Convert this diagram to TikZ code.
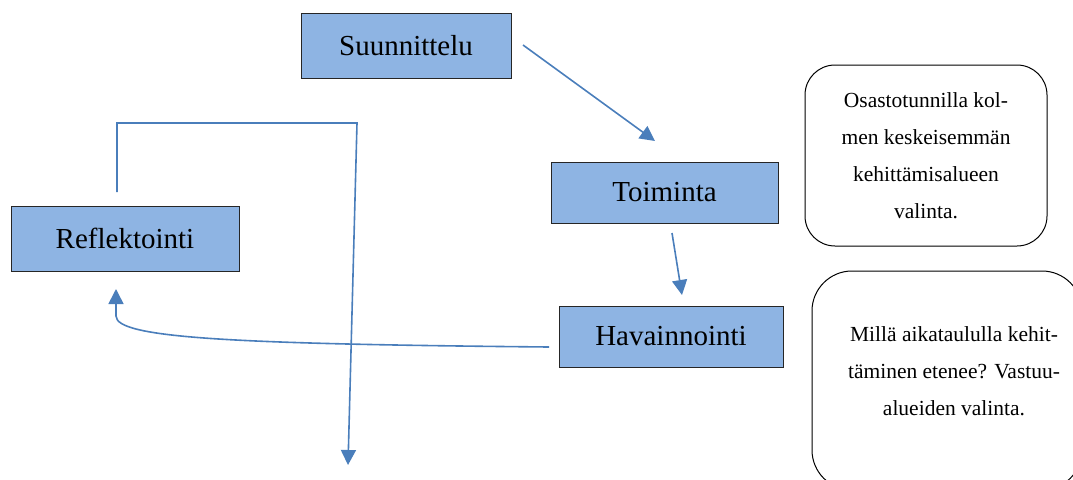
\documentclass[tikz,border=0pt]{standalone}
\usepackage{fontspec}
\newfontfamily\boxfont{LiberationSerif}[Extension=.ttf, UprightFont=*-Regular, BoldFont=*-Bold]
\usetikzlibrary{arrows.meta}
\definecolor{boxfill}{RGB}{142,180,227}
\definecolor{flow}{RGB}{74,126,187}
\begin{document}
\begin{tikzpicture}[x=1pt,y=-1pt,
  stage/.style={draw=black!85, line width=0.9pt, fill=boxfill, inner sep=0pt,
    font=\boxfont\fontsize{29}{34}\selectfont},
  notebox/.style={draw=black, line width=1pt},
  notetext/.style={align=center, inner sep=0pt, font=\boxfont\fontsize{21.5}{37}\selectfont},
  flowline/.style={draw=flow, line width=1.6pt},
  flowarrow/.style={flowline, -{Triangle[width=15pt,length=15pt]}}]
\clip (0,0) rectangle (1073,479);

% cycle stages
\node[stage, minimum width=210pt, minimum height=65pt] (suun) at (406,45.5) {Suunnittelu};
\node[stage, minimum width=227pt, minimum height=61pt] (toim) at (664.5,192.5) {Toiminta};
\node[stage, minimum width=224pt, minimum height=61pt] (hava) at (671,336.5) {Havainnointi};
\node[stage, minimum width=228pt, minimum height=65pt] (refl) at (125,238.5) {Reflektointi};

% side notes
\draw[notebox, rounded corners=30pt] (805,65) rectangle (1047,246);
\node[notetext] (note1) at (926,155.5) {Osastotunnilla kol-\\men keskeisemmän\\kehittämisalueen\\valinta.};
\draw[notebox, rounded corners=40pt] (812,271) rectangle (1082,490);
\node[notetext] (note2) at (954,371) {Millä aikataululla kehit-\\täminen etenee? Vastuu-\\alueiden valinta.};

% connector end points
\coordinate (a1s) at (523,45);
\coordinate (a1e) at (655,141);
\coordinate (a2s) at (672,233);
\coordinate (a2e) at (682,295);
\coordinate (a3s) at (549,347);
\coordinate (a3e) at (116,289);
\coordinate (a4s) at (117,192);
\coordinate (a4c1) at (117,123);
\coordinate (a4c2) at (357,123);
\coordinate (a4e) at (348,465);

\draw[flowarrow] (a1s) -- (a1e);
\draw[flowarrow] (a2s) -- (a2e);
\draw[flowarrow] (a3s) .. controls (230,344) and (116,338) .. (116,316) -- (a3e);
\draw[flowarrow] (a4s) -- (a4c1) -- (a4c2) -- (a4e);
\end{tikzpicture}
\end{document}
